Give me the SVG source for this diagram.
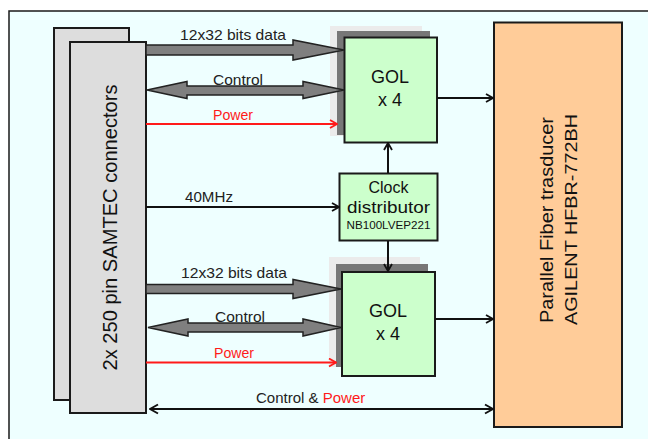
<svg xmlns="http://www.w3.org/2000/svg" width="648" height="439" viewBox="0 0 648 439">
<defs>
<style>
.lbl{font-family:"Liberation Sans",Arial,sans-serif;font-size:15px;fill:#222}
.red{fill:#ff1a1a}
.box{stroke:#1a1a1a;stroke-width:2}
.conn{fill:#dddddd}
.gol{fill:#ccffcc}
.fat{fill:#7f7f7f;stroke:#222;stroke-width:1.5;stroke-linejoin:miter}
.ln{fill:none;stroke:#111;stroke-width:2}
.rl{fill:none;stroke:#ff1a1a;stroke-width:2}
.big{font-family:"Liberation Sans",Arial,sans-serif;fill:#111}
</style>
<marker id="ah" viewBox="0 0 10 10" refX="9" refY="5" markerWidth="10" markerHeight="10" markerUnits="userSpaceOnUse" orient="auto-start-reverse">
<path d="M2,1 L9,5 L2,9" fill="none" stroke="#111" stroke-width="1.8"/>
</marker>
<marker id="ahr" viewBox="0 0 10 10" refX="9" refY="5" markerWidth="10" markerHeight="10" markerUnits="userSpaceOnUse" orient="auto-start-reverse">
<path d="M2,1 L9,5 L2,9" fill="none" stroke="#ff1a1a" stroke-width="1.8"/>
</marker>
<marker id="ahb" viewBox="0 0 12 12" refX="11" refY="6" markerWidth="12" markerHeight="12" markerUnits="userSpaceOnUse" orient="auto-start-reverse">
<path d="M3,1.5 L11,6 L3,10.5" fill="none" stroke="#111" stroke-width="2"/>
</marker>
</defs>

<rect x="9" y="11" width="660" height="450" fill="#eeffff" stroke="#1a1a1a" stroke-width="1.5"/>

<g id="connectors-node">
<rect class="box conn" x="54" y="28" width="75" height="372"/>
<rect class="box conn" x="70" y="42" width="76" height="371"/>
<text class="big" font-size="20" text-anchor="middle" transform="translate(117,227.5) rotate(-90)" textLength="286" lengthAdjust="spacingAndGlyphs">2x 250 pin SAMTEC connectors</text>
</g>

<g id="gol-top">
<rect x="330" y="26" width="92" height="110" fill="#ebebeb"/>
<rect x="337" y="31" width="93" height="104" fill="#777777"/>
<rect class="box gol" x="344.5" y="37.5" width="92.5" height="105"/>
<text class="big" font-size="18" text-anchor="middle" x="390" y="83">GOL</text>
<text class="big" font-size="18" text-anchor="middle" x="390" y="106">x 4</text>
</g>

<g id="gol-bottom">
<rect x="329" y="257" width="91" height="110" fill="#ebebeb"/>
<rect x="336" y="264" width="92" height="103" fill="#777777"/>
<rect class="box gol" x="342" y="272" width="93" height="104"/>
<text class="big" font-size="18" text-anchor="middle" x="388" y="317">GOL</text>
<text class="big" font-size="18" text-anchor="middle" x="388" y="340">x 4</text>
</g>

<g id="clock">
<rect class="box gol" x="339.5" y="173.5" width="98" height="67"/>
<text class="big" font-size="16.5" text-anchor="middle" x="388.5" y="193" textLength="40" lengthAdjust="spacingAndGlyphs">Clock</text>
<text class="big" font-size="16.5" text-anchor="middle" x="388.5" y="213" textLength="83" lengthAdjust="spacingAndGlyphs">distributor</text>
<text class="big" font-size="10.5" text-anchor="middle" x="388.5" y="228.5" textLength="84" lengthAdjust="spacingAndGlyphs">NB100LVEP221</text>
</g>

<g id="fiber">
<rect class="box" x="494" y="22.5" width="128" height="404.5" fill="#ffcc99"/>
<text class="big" font-size="18" text-anchor="middle" transform="translate(553,220) rotate(-90)" textLength="206" lengthAdjust="spacingAndGlyphs">Parallel Fiber trasducer</text>
<text class="big" font-size="17" text-anchor="middle" transform="translate(577,219.5) rotate(-90)" textLength="211" lengthAdjust="spacingAndGlyphs">AGILENT HFBR-772BH</text>
</g>

<g id="edges">
<polygon class="fat" points="146,45 293,45 293,40 344,50 293,60 293,55 146,55"/>
<polygon class="fat" points="147,90 187,81.5 187,86 303,86 303,81.5 344,90 303,98.5 303,95 187,95 187,98.5"/>
<line class="rl" x1="146" y1="124" x2="337" y2="124" marker-end="url(#ahr)"/>
<line class="ln" x1="146" y1="207" x2="339" y2="207" marker-end="url(#ah)"/>
<polygon class="fat" points="146,284.5 293,284.5 293,279.5 341,289 293,298.5 293,293.5 146,293.5"/>
<polygon class="fat" points="148,327.5 188,319 188,323 303,323 303,319 341,327.5 303,336 303,332 188,332 188,336"/>
<line class="rl" x1="146" y1="362.5" x2="336" y2="362.5" marker-end="url(#ahr)"/>
<line class="ln" x1="437" y1="98" x2="493" y2="98" marker-end="url(#ah)"/>
<line class="ln" x1="435" y1="319" x2="493" y2="319" marker-end="url(#ah)"/>
<line class="ln" stroke-width="2.5" x1="388" y1="173" x2="388" y2="143" marker-end="url(#ah)"/>
<line class="ln" stroke-width="2.5" x1="388" y1="241" x2="388" y2="271" marker-end="url(#ah)"/>
<line class="ln" stroke-width="4" x1="150" y1="409" x2="493" y2="409" marker-start="url(#ahb)" marker-end="url(#ahb)"/>
</g>

<g id="edge-labels">
<text class="lbl" x="180" y="40" textLength="106" lengthAdjust="spacingAndGlyphs">12x32 bits data</text>
<text class="lbl" x="213" y="85" textLength="50" lengthAdjust="spacingAndGlyphs">Control</text>
<text class="lbl red" x="213" y="120" textLength="40" lengthAdjust="spacingAndGlyphs">Power</text>
<text class="lbl" x="185" y="202" textLength="48" lengthAdjust="spacingAndGlyphs">40MHz</text>
<text class="lbl" x="181" y="278" textLength="106" lengthAdjust="spacingAndGlyphs">12x32 bits data</text>
<text class="lbl" x="215" y="322" textLength="50" lengthAdjust="spacingAndGlyphs">Control</text>
<text class="lbl red" x="214" y="357.5" textLength="40" lengthAdjust="spacingAndGlyphs">Power</text>
<text class="lbl" x="256" y="403">Control &amp; <tspan class="red">Power</tspan></text>
</g>
</svg>
